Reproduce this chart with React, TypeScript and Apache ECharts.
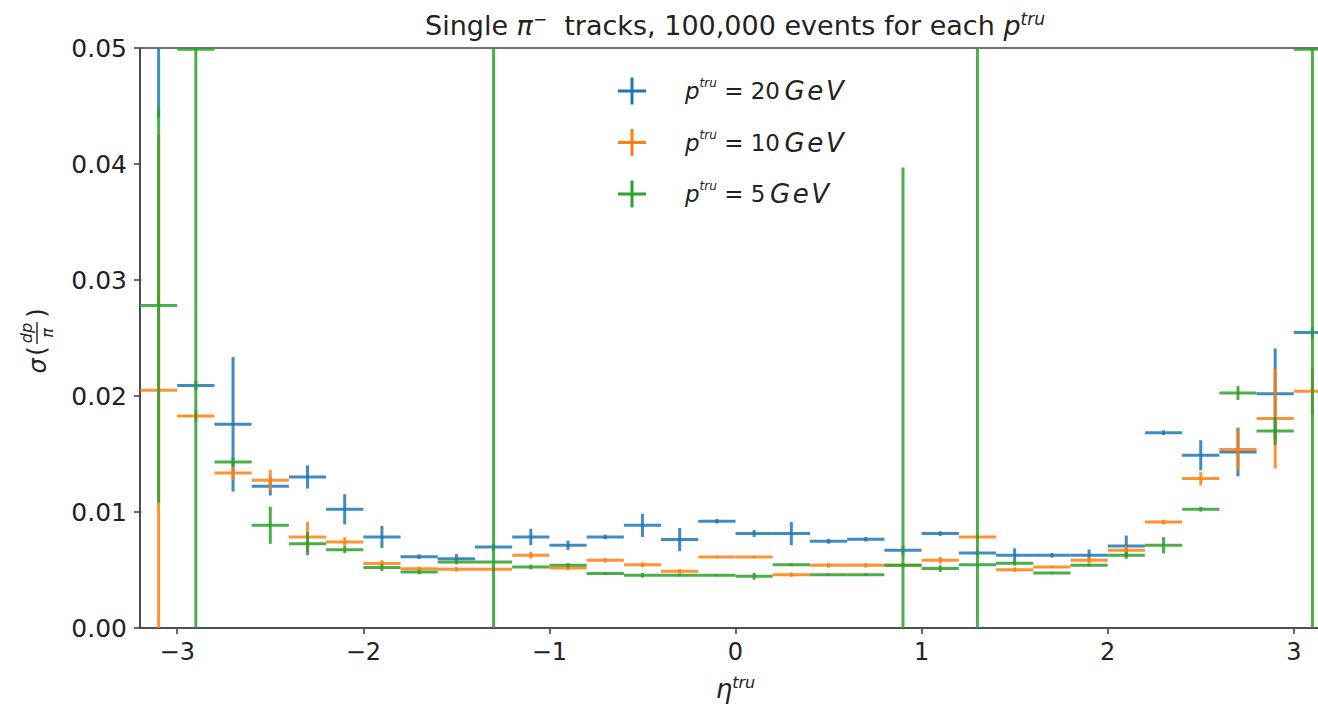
import React, { useEffect, useRef } from "react";
import * as echarts from "echarts";

// Bin centres in eta (bins of width 0.2)
const etaCenters = [
  -3.1, -2.9, -2.7, -2.5, -2.3, -2.1, -1.9, -1.7, -1.5, -1.3, -1.1, -0.9, -0.7, -0.5, -0.3, -0.1,
  0.1, 0.3, 0.5, 0.7, 0.9, 1.1, 1.3, 1.5, 1.7, 1.9, 2.1, 2.3, 2.5, 2.7, 2.9, 3.1,
];
const etaHalfWidth = 0.1;

// sigma(dp/p) per bin, p = 20 GeV
const res20 = [
  0.058, 0.0209, 0.01756, 0.01222, 0.01302, 0.01023, 0.00785, 0.00615, 0.00598, 0.00698, 0.00785, 0.00713,
  0.00785, 0.00885, 0.00762, 0.0092, 0.00814, 0.00814, 0.00747, 0.00765, 0.0067, 0.00814, 0.00647, 0.00627,
  0.00627, 0.00627, 0.00707, 0.01684, 0.01489, 0.01517, 0.0202, 0.02547,
];
const err20 = [
  0.014, 0.0004, 0.0058, 0.0008, 0.001, 0.0013, 0.00095, 0.0002, 0.0004, 0.0003, 0.0007, 0.0004,
  0.0002, 0.001, 0.001, 0.0002, 0.0003, 0.001, 0.0002, 0.0002, 0.0004, 0.0002, 0.0002, 0.0006,
  0.0002, 0.0005, 0.0009, 0.0002, 0.0013, 0.0021, 0.0039, 0.0005,
];

// p = 10 GeV
const res10 = [
  0.0205, 0.01828, 0.01336, 0.01273, 0.00785, 0.00742, 0.00555, 0.0051, 0.00506, 0.00506, 0.00627, 0.00517,
  0.00584, 0.00546, 0.00489, 0.00612, 0.00612, 0.0046, 0.0054, 0.0054, 0.0054, 0.00584, 0.00785, 0.00503,
  0.00526, 0.00584, 0.0067, 0.00914, 0.01288, 0.01538, 0.01805, 0.0204,
];
const err10 = [
  0.022, 0.0005, 0.0006, 0.0009, 0.0013, 0.0004, 0.0003, 0.0002, 0.0002, 0.0002, 0.0003, 0.0002,
  0.0002, 0.0002, 0.0002, 0.0001, 0.0001, 0.0002, 0.0002, 0.0002, 0.0002, 0.0003, 0.0002, 0.0002,
  0.0001, 0.0003, 0.0004, 0.0002, 0.0006, 0.0018, 0.0043, 0.002,
];

// p = 5 GeV
const res5 = [
  0.0278, 0.0499, 0.01431, 0.00885, 0.00727, 0.00675, 0.00521, 0.00483, 0.0057, 0.0057, 0.00526, 0.0054,
  0.00469, 0.00454, 0.00454, 0.00454, 0.00446, 0.00546, 0.0046, 0.0046, 0.0054, 0.00512, 0.00546, 0.00558,
  0.00474, 0.0054, 0.00627, 0.00713, 0.01023, 0.02026, 0.01698, 0.0499,
];
const err5 = [
  0.017, 0.06, 0.0004, 0.0016, 0.001, 0.0003, 0.0003, 0.0002, 0.0002, 0.06, 0.0002, 0.0002,
  0.0001, 0.0002, 0.0001, 0.0001, 0.0003, 0.0001, 0.0001, 0.0001, 0.0343, 0.0003, 0.06, 0.0002,
  0.0001, 0.0001, 0.0003, 0.0007, 0.0002, 0.0006, 0.0012, 0.06,
];

const momenta = ["20", "10", "5"];
const seriesColors = ["#1f77b4", "#ff7f0e", "#2ca02c"];
const xTicks = [-3, -2, -1, 0, 1, 2, 3];

const FONT = "DejaVu Sans";
const INK = "#222";
const SPINE = "#444";
const plusIcon = "path://M0,12H28V15H0Z M12.5,0H15.5V27H12.5Z";

function errorbarRenderer(color: string) {
  return (params: any, api: any) => {
    const x = api.value(0);
    const y = api.value(1);
    const e = api.value(2);
    const l = api.coord([x - etaHalfWidth, y]);
    const r = api.coord([x + etaHalfWidth, y]);
    const t = api.coord([x, y + e]);
    const b = api.coord([x, y - e]);
    const style = { stroke: color, lineWidth: 3, opacity: 0.85 };
    return {
      type: "group",
      children: [
        { type: "line", shape: { x1: l[0], y1: l[1], x2: r[0], y2: r[1] }, style },
        { type: "line", shape: { x1: b[0], y1: b[1], x2: t[0], y2: t[1] }, style },
      ],
    };
  };
}

export default function App() {
  const ref = useRef<HTMLDivElement>(null);

  useEffect(() => {
    if (!ref.current) return;
    const chart = echarts.init(ref.current, undefined, { renderer: "svg" });

    const sets = [
      { vals: res20, errs: err20 },
      { vals: res10, errs: err10 },
      { vals: res5, errs: err5 },
    ];
    const names = momenta.map((m) => `p_tru = ${m} GeV`);

    const series = sets.map((s, k) => ({
      type: "custom",
      name: names[k],
      color: seriesColors[k],
      itemStyle: { color: seriesColors[k] },
      clip: true,
      renderItem: errorbarRenderer(seriesColors[k]),
      encode: { x: 0, y: 1 },
      data: etaCenters.map((x, i) => [x, s.vals[i], s.errs[i]]),
      z: 2 + k,
    }));

    const legendRich = {
      i: { fontFamily: FONT, fontStyle: "italic", fontSize: 23, lineHeight: 28, color: INK },
      u: { fontFamily: FONT, fontStyle: "italic", fontSize: 26, lineHeight: 28, color: INK },
      n: { fontFamily: FONT, fontSize: 23, lineHeight: 28, color: INK },
      sup: { fontFamily: FONT, fontStyle: "italic", fontSize: 12, lineHeight: 14, verticalAlign: "top", color: INK },
    };

    const option: any = {
      animation: false,
      backgroundColor: "#ffffff",
      title: {
        text: "{n|Single }{i|π}{sup|−}{n|  tracks, 100,000 events for each }{i|p}{supi|tru}",
        left: 735,
        top: 10,
        padding: 0,
        textAlign: "center",
        textStyle: {
          fontWeight: "normal",
          rich: {
            n: { fontFamily: FONT, fontSize: 27, fontWeight: "normal", lineHeight: 30, color: INK },
            i: { fontFamily: FONT, fontStyle: "italic", fontWeight: "normal", fontSize: 27, lineHeight: 30, color: INK },
            sup: { fontFamily: FONT, fontWeight: "normal", fontSize: 17, lineHeight: 16, verticalAlign: "top", color: INK },
            supi: { fontFamily: FONT, fontStyle: "italic", fontWeight: "normal", fontSize: 17, lineHeight: 16, verticalAlign: "top", color: INK },
          },
        },
      },
      legend: {
        orient: "vertical",
        left: 618,
        top: 77,
        itemWidth: 28,
        itemHeight: 27,
        itemGap: 24,
        padding: 0,
        data: names.map((n) => ({ name: n, icon: plusIcon })),
        formatter: (name: string) => {
          const k = names.indexOf(name);
          return `{i|p}{sup|tru}{n| = ${momenta[k]}\u2009}{u|G\u200Ae\u200AV}`;
        },
        textStyle: { padding: [0, 0, 0, 34], rich: legendRich },
      },
      grid: {
        left: 140,
        top: 48,
        right: 0,
        bottom: 80,
        show: true,
        borderColor: SPINE,
        borderWidth: 1.6,
        backgroundColor: "transparent",
      },
      xAxis: {
        type: "value",
        min: -3.2,
        max: 3.2,
        name: "{i|η}{sup|tru}",
        nameLocation: "middle",
        nameGap: 46,
        nameTextStyle: {
          rich: {
            i: { fontFamily: FONT, fontStyle: "italic", fontSize: 26, lineHeight: 30, color: INK },
            sup: { fontFamily: FONT, fontStyle: "italic", fontSize: 16, lineHeight: 16, verticalAlign: "top", color: INK },
          },
        },
        axisLine: { show: true, onZero: false, lineStyle: { color: SPINE, width: 1.6 } },
        axisTick: { show: true, length: 6, lineStyle: { color: SPINE, width: 1.6 }, customValues: xTicks },
        axisLabel: {
          customValues: xTicks,
          margin: 12,
          fontFamily: FONT,
          fontSize: 24,
          color: INK,
          formatter: (v: number) => (v < 0 ? "\u2212" + Math.abs(v) : String(v)),
        },
        splitLine: { show: false },
      },
      yAxis: {
        type: "value",
        min: 0,
        max: 0.05,
        interval: 0.01,
        axisLine: { show: true, onZero: false, lineStyle: { color: SPINE, width: 1.6 } },
        axisTick: { show: true, length: 6, lineStyle: { color: SPINE, width: 1.6 } },
        axisLabel: {
          margin: 13,
          fontFamily: FONT,
          fontSize: 25,
          color: INK,
          formatter: (v: number) => v.toFixed(2),
        },
        splitLine: { show: false },
      },
      graphic: [
        {
          type: "group",
          x: 37,
          y: 341,
          rotation: Math.PI / 2,
          children: [
            { type: "text", x: -25, y: 1, style: { text: "σ", font: `italic 24px '${FONT}'`, fill: INK, align: "center", verticalAlign: "middle" } },
            { type: "text", x: -10, y: 0, style: { text: "(", font: `24px '${FONT}'`, fill: INK, align: "center", verticalAlign: "middle" } },
            { type: "text", x: 8, y: -11, style: { text: "dp", font: `italic 16px '${FONT}'`, fill: INK, align: "center", verticalAlign: "middle" } },
            { type: "line", shape: { x1: -3, y1: 0, x2: 19, y2: 0 }, style: { stroke: INK, lineWidth: 1.4 } },
            { type: "text", x: 8, y: 10, style: { text: "π", font: `italic 16px '${FONT}'`, fill: INK, align: "center", verticalAlign: "middle" } },
            { type: "text", x: 28, y: 0, style: { text: ")", font: `24px '${FONT}'`, fill: INK, align: "center", verticalAlign: "middle" } },
          ],
        },
      ],
      series,
    };

    chart.setOption(option);
    return () => chart.dispose();
  }, []);

  // The plot frame runs slightly past the right edge of the visible area.
  return (
    <div style={{ position: "fixed", left: 0, top: 0, width: 1318, height: 708, background: "#fff", overflow: "hidden" }}>
      <div ref={ref} style={{ width: 1331, height: 708 }} />
    </div>
  );
}
